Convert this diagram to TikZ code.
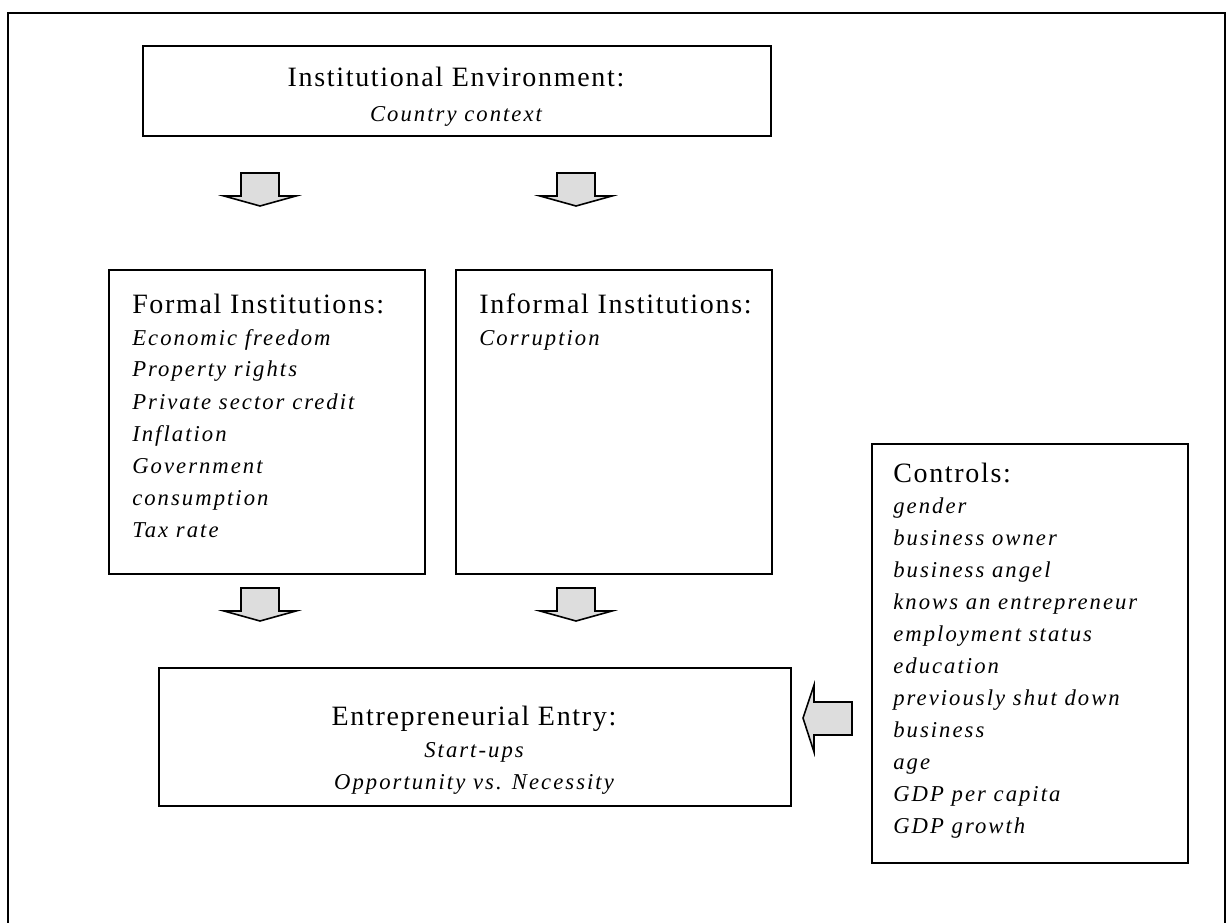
\documentclass[tikz,border=0pt]{standalone}
\usepackage{fontspec}
\setmainfont{Liberation Serif}
\newfontfamily\headfont[LetterSpace=6]{Liberation Serif}
\newfontfamily\listfont[LetterSpace=9]{Liberation Serif}
\definecolor{arrowgray}{RGB}{221,221,221}
\tikzset{
  frame/.style={draw, line width=1.5pt, inner sep=0pt, anchor=north west},
  heading/.style={inner sep=0pt, font=\headfont\fontsize{21}{24}\selectfont},
  entry/.style={inner sep=0pt, font=\listfont\itshape\fontsize{17}{24}\selectfont},
  blockarrow/.style={draw, line width=1.2pt, fill=arrowgray, line join=miter},
}
\begin{document}
\begin{tikzpicture}[x=0.75pt, y=-0.75pt]
  \useasboundingbox (0,0) rectangle (1227,923);
  % outer frame, open at the bottom
  \draw[line width=2pt] (8,923) -- (8,13) -- (1225,13) -- (1225,923);

  % boxes
  \node[frame, minimum width=628*0.75pt, minimum height=90*0.75pt] (env) at (142,45) {};
  \node[frame, minimum width=316*0.75pt, minimum height=304*0.75pt] (formal) at (108,269) {};
  \node[frame, minimum width=316*0.75pt, minimum height=304*0.75pt] (informal) at (455,269) {};
  \node[frame, minimum width=632*0.75pt, minimum height=138*0.75pt] (entry) at (158,667) {};
  \node[frame, minimum width=316*0.75pt, minimum height=419*0.75pt] (controls) at (871,443) {};

  % texts
  \node[heading, anchor=base] (env-head) at (456,87) {Institutional Environment:};
  \node[entry, anchor=base] (env-sub) at (456,122) {Country context};

  \node[heading, anchor=base west] (formal-head) at (132,314) {Formal Institutions:};
  \foreach \t [count=\i] in {Economic freedom, Property rights, Private sector credit,
      Inflation, Government, consumption, Tax rate}
    \node[entry, anchor=base west] (formal-\i) at (132,313+32*\i) {\t};

  \node[heading, anchor=base west] (informal-head) at (479,314) {Informal Institutions:};
  \node[entry, anchor=base west] (informal-1) at (479,345) {Corruption};

  \node[heading, anchor=base] (entry-head) at (474,725) {Entrepreneurial Entry:};
  \node[entry, anchor=base] (entry-1) at (474,757) {Start-ups};
  \node[entry, anchor=base] (entry-2) at (474,789) {Opportunity vs. Necessity};

  \node[heading, anchor=base west] (controls-head) at (893,482) {Controls:};
  \foreach \t [count=\i] in {gender, business owner, business angel,
      knows an entrepreneur, employment status, education,
      previously shut down, business, age, GDP per capita, GDP growth}
    \node[entry, anchor=base west] (controls-\i) at (893,481+32*\i) {\t};

  % block arrows
  \foreach \x/\y in {260/173, 576/173, 260/588, 576/588}
    \draw[blockarrow] (\x-19,\y) -- ++(38,0) -- ++(0,23) -- ++(17,0)
      -- (\x,\y+33) -- (\x-36,\y+23) -- ++(17,0) -- cycle;
  \draw[blockarrow] (852,702) -- (814,702) -- (814,685) -- (803,718)
    -- (814,752) -- (814,735) -- (852,735) -- cycle;
\end{tikzpicture}
\end{document}
